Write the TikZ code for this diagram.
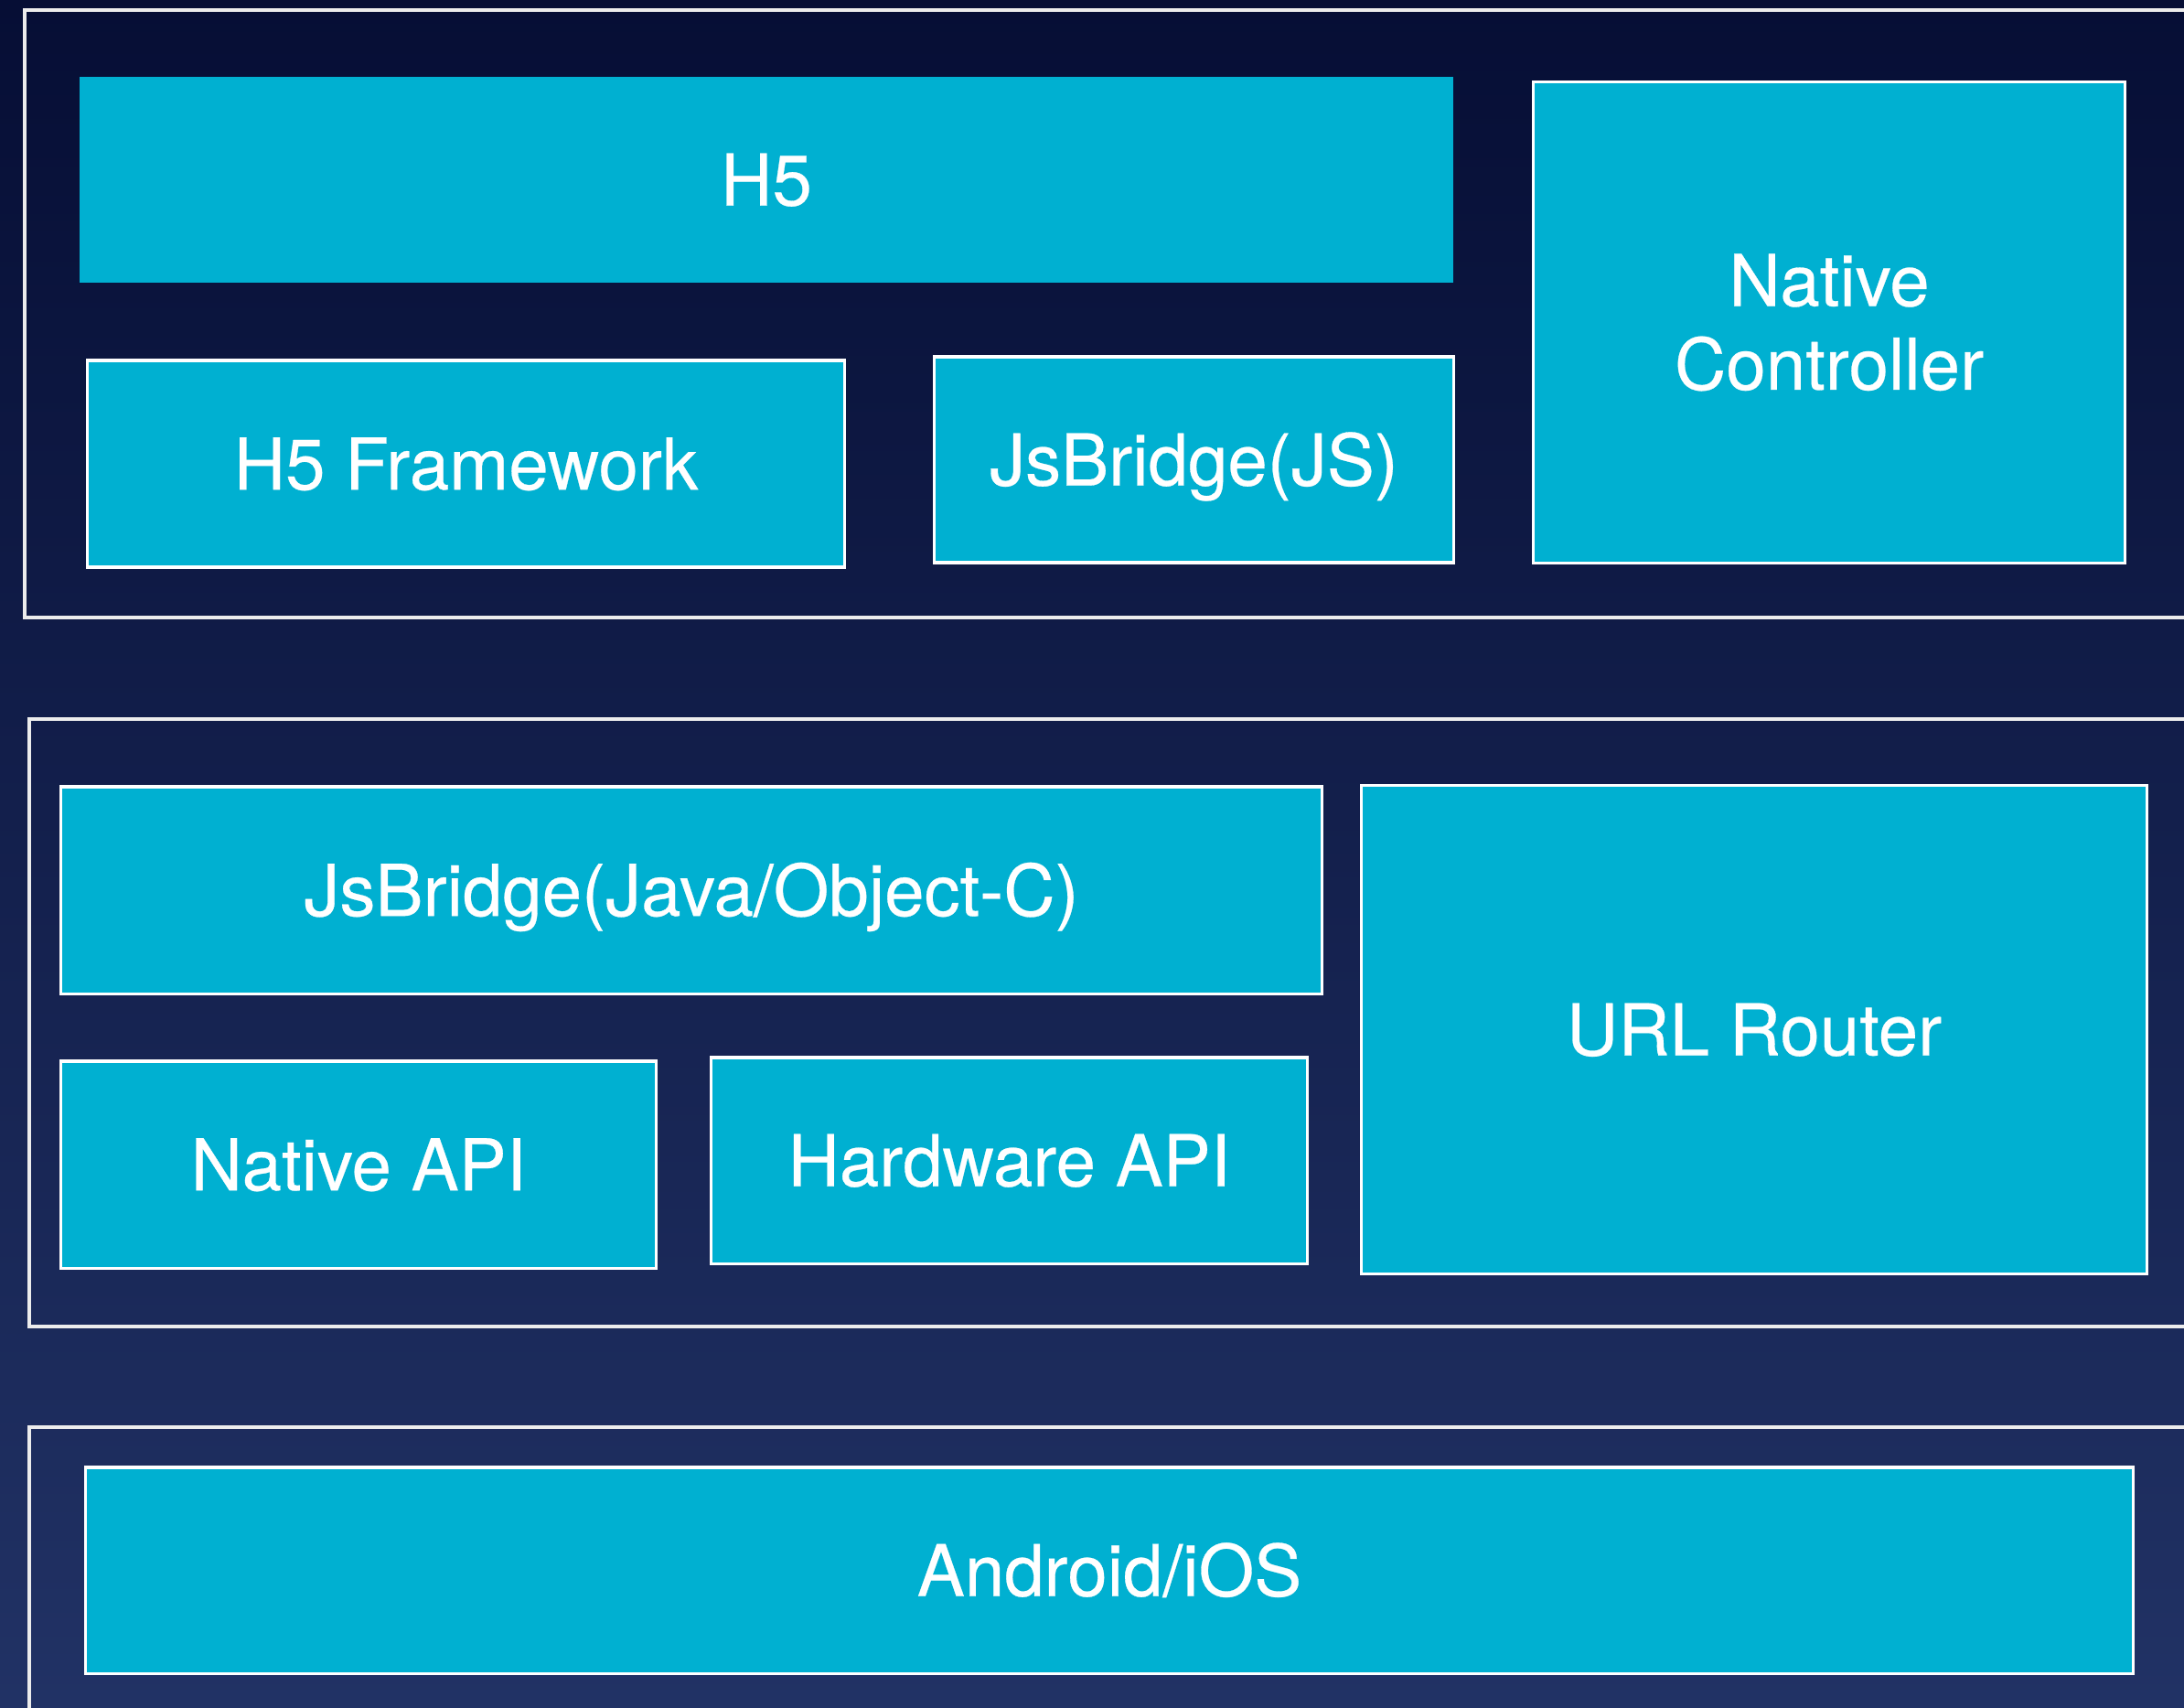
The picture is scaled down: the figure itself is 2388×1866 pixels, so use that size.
\documentclass[tikz,border=0pt]{standalone}
\usepackage{fontspec}
\setmainfont{TeX Gyre Heros}[FakeBold=0.35]
\usetikzlibrary{calc}
\definecolor{bgtop}{RGB}{6,14,53}
\definecolor{bgbot}{RGB}{33,50,101}
\definecolor{cyanbox}{RGB}{0,176,209}
\tikzset{
	block/.style={fill=cyanbox, draw=white, line width=0.9pt, inner sep=0pt, text=white, align=center,
		font=\fontsize{22.2}{26}\selectfont, text height=16pt, text depth=0pt},
	layer/.style={draw=white!85!gray, line width=1pt}
}

\begin{document}
\begin{tikzpicture}[x=0.01cm, y=-0.01cm]
		%%%%% START %%%%%
		
		\shade[top color=bgtop, bottom color=bgbot] (0, 0) rectangle (2388, 1866);
		\useasboundingbox (0, 0) rectangle (2388, 1866);
		
		% layers
		\draw[layer] (2388, 11) -| (27, 675) -- (2388, 675);
		\draw[layer] (2388, 786) -| (32, 1450) -- (2388, 1450);
		\draw[layer] (2388, 1560) -| (32, 1880);
		
		% top layer
		\node[block, draw=none, minimum width=15.02cm, minimum height=2.25cm] (h5) at (838, 196.5) {H5};
		\node[block, minimum width=8.27cm, minimum height=2.26cm] (h5fw) at (509.5, 507) {H5 Framework};
		\node[block, minimum width=5.67cm, minimum height=2.25cm] (jsb) at (1305.5, 502.5) {JsBridge(JS)};
		\node[block, minimum width=6.46cm, minimum height=5.25cm, text height=, text depth=] (nctrl) at (2000, 352.5) {Native\\Controller};
		
		% middle layer
		\node[block, minimum width=13.78cm, minimum height=2.26cm] (jbnative) at (756, 973) {JsBridge(Java/Object-C)};
		\node[block, minimum width=8.58cm, minimum height=5.33cm] (router) at (1918, 1125.5) {URL Router};
		\node[block, minimum width=6.50cm, minimum height=2.26cm] (napi) at (392, 1273) {Native API};
		\node[block, minimum width=6.51cm, minimum height=2.25cm] (hwapi) at (1103.5, 1268.5) {Hardware API};
		
		% bottom layer
		\node[block, minimum width=22.38cm, minimum height=2.25cm] (os) at (1213, 1716.5) {Android/iOS};
		
		%%%%% END %%%%%
	\end{tikzpicture}
\end{document}
